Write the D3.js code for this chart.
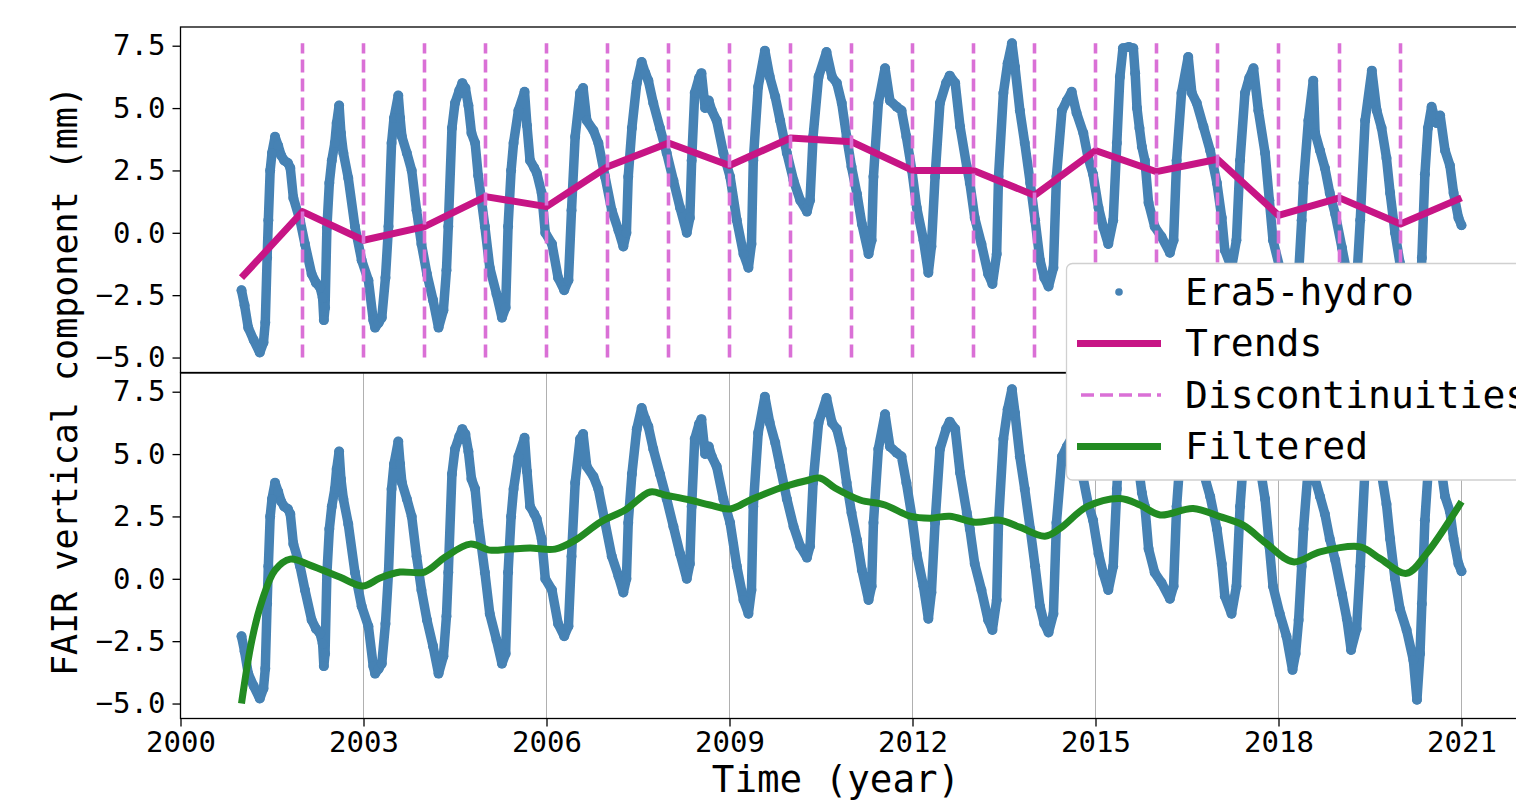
<!DOCTYPE html>
<html>
<head>
<meta charset="utf-8">
<script src="https://cdn.jsdelivr.net/npm/d3@7"></script>
<style>
  html, body { margin: 0; padding: 0; background: #ffffff; overflow: hidden; }
  svg { display: block; font-family: "DejaVu Sans Mono", monospace; }
</style>
</head>
<body>
<svg id="chart" width="1516" height="802"></svg>
<script>
// ---------------- data ----------------
const eraYears = [
  2001.00,2001.05,2001.11,2001.20,2001.30,2001.36,2001.39,2001.42,2001.44,2001.47,2001.50,2001.55,2001.60,2001.65,2001.70,2001.76,2001.80,2001.85,2001.96,
  2002.04,2002.15,2002.22,2002.29,2002.33,2002.35,2002.37,2002.40,2002.44,2002.48,2002.53,2002.56,2002.60,2002.63,2002.67,2002.75,2002.86,2002.97,
  2003.08,2003.16,2003.19,2003.25,2003.30,2003.36,2003.41,2003.46,2003.50,2003.57,2003.60,2003.63,2003.71,2003.79,2003.87,2003.95,
  2004.04,2004.14,2004.23,2004.31,2004.36,2004.39,2004.45,2004.50,2004.57,2004.62,2004.67,2004.72,2004.77,2004.83,2004.88,2004.99,
  2005.07,2005.18,2005.27,2005.33,2005.37,2005.42,2005.46,2005.54,2005.64,2005.68,2005.73,2005.80,2005.84,2005.92,2005.98,
  2006.09,2006.19,2006.29,2006.36,2006.41,2006.47,2006.55,2006.60,2006.66,2006.77,2006.85,2006.96,
  2007.07,2007.18,2007.26,2007.31,2007.34,2007.40,2007.48,2007.56,2007.62,2007.67,2007.75,2007.86,2007.97,
  2008.08,2008.19,2008.30,2008.35,2008.38,2008.43,2008.50,2008.54,2008.60,2008.66,2008.71,2008.79,2008.90,
  2009.01,2009.12,2009.23,2009.31,2009.36,2009.39,2009.47,2009.58,2009.66,2009.75,2009.83,2009.94,
  2010.05,2010.16,2010.27,2010.32,2010.37,2010.46,2010.59,2010.68,2010.76,2010.84,2010.92,
  2011.00,2011.09,2011.17,2011.28,2011.33,2011.36,2011.44,2011.55,2011.63,2011.74,2011.82,2011.90,2011.99,
  2012.07,2012.18,2012.26,2012.31,2012.37,2012.45,2012.55,2012.61,2012.70,2012.78,2012.89,2012.94,
  2013.02,2013.13,2013.24,2013.31,2013.38,2013.41,2013.49,2013.56,2013.63,2013.68,2013.76,2013.84,2013.93,
  2014.01,2014.09,2014.16,2014.23,2014.31,2014.36,2014.45,2014.53,2014.61,2014.69,2014.80,2014.88,2014.96,
  2015.05,2015.13,2015.21,2015.29,2015.35,2015.40,2015.45,2015.55,2015.62,2015.65,2015.68,2015.72,2015.76,2015.81,2015.87,2015.97,
  2016.08,2016.22,2016.28,2016.33,2016.41,2016.52,2016.58,2016.66,2016.77,2016.88,2016.99,
  2017.07,2017.12,2017.23,2017.31,2017.37,2017.45,2017.52,2017.59,2017.67,2017.78,2017.85,2017.91,
  2018.02,2018.13,2018.23,2018.28,2018.33,2018.38,2018.41,2018.49,2018.57,2018.60,2018.68,2018.76,2018.84,2018.93,
  2019.04,2019.12,2019.19,2019.28,2019.34,2019.42,2019.53,2019.61,2019.69,2019.77,2019.83,2019.91,2019.99,
  2020.10,2020.21,2020.27,2020.32,2020.35,2020.40,2020.45,2020.51,2020.59,2020.65,2020.73,2020.81,2020.87,2020.95,2021.00
];
const eraValues = [
  -2.3,-2.9,-3.8,-4.3,-4.8,-4.4,-3.6,-1.0,0.5,2.5,3.2,3.85,3.5,3.1,2.9,2.8,2.6,1.4,0.5,
  -0.45,-1.65,-2.0,-2.2,-2.6,-3.5,-3.0,0.2,2.0,2.9,3.6,4.4,5.1,4.0,3.2,2.2,0.25,-1.1,
  -1.9,-3.5,-3.8,-3.6,-3.4,-1.8,0.25,3.6,4.6,5.5,4.6,3.85,3.2,2.5,0.9,-0.45,
  -1.65,-2.7,-3.8,-3.1,-1.5,0.25,4.2,5.2,5.7,6.0,5.8,5.1,4.0,3.6,2.3,0.25,
  -1.4,-2.45,-3.4,-3.0,0.25,2.5,3.6,4.9,5.65,4.3,2.9,2.6,2.4,1.6,0.0,
  -0.45,-1.8,-2.3,-1.9,0.9,3.85,5.6,5.8,4.5,4.1,3.6,2.25,
  0.9,0.1,-0.55,0.0,2.25,4.2,6.0,6.85,6.4,6.1,5.2,4.2,3.2,
  2.1,1.0,0.0,0.6,2.9,5.6,6.2,6.4,5.0,5.3,4.9,4.5,3.2,
  2.25,0.5,-0.85,-1.4,-0.45,2.9,5.85,7.3,6.25,5.45,4.5,3.2,
  2.1,1.3,0.85,1.3,3.85,6.25,7.25,6.25,6.0,5.2,3.85,
  2.65,1.55,0.35,-0.85,-0.3,2.25,5.2,6.6,5.3,5.05,4.9,3.85,2.5,
  1.0,-0.3,-1.6,-0.55,2.25,5.2,6.0,6.3,6.0,4.25,2.65,2.0,
  0.6,-0.45,-1.65,-2.05,-0.85,2.25,5.6,6.8,7.6,6.65,4.9,3.6,2.0,
  0.5,-1.1,-1.8,-2.15,-1.4,2.25,4.9,5.3,5.65,4.8,4.0,3.0,2.35,
  1.0,0.2,-0.45,0.5,3.6,6.25,7.4,7.45,7.4,6.4,5.0,4.2,3.45,2.9,1.2,0.25,
  -0.15,-0.8,-0.3,2.9,5.6,7.05,5.6,5.2,4.25,3.3,2.0,
  0.6,-0.7,-1.4,-0.3,2.9,5.6,6.2,6.6,4.9,3.2,1.3,-0.3,
  -1.4,-2.3,-3.65,-3.0,-1.65,0.5,2.0,4.5,6.1,4.0,3.3,2.6,1.6,0.75,
  -0.6,-1.6,-2.85,-2.0,0.5,4.5,6.5,4.9,4.2,3.0,1.6,0.0,-1.2,
  -2.05,-3.25,-4.85,-3.0,-1.0,2.35,4.2,5.05,4.4,4.7,3.3,2.7,1.6,0.6,0.3
];

const trendYears  = [2001,2002,2003,2004,2005,2006,2007,2008,2009,2010,2011,2012,2013,2014,2015,2016,2017,2018,2019,2020,2021];
const trendValues = [-1.8,0.85,-0.3,0.25,1.45,1.05,2.65,3.6,2.7,3.8,3.65,2.5,2.5,1.5,3.3,2.45,2.95,0.7,1.4,0.35,1.4];

const discYears = [2002,2003,2004,2005,2006,2007,2008,2009,2010,2011,2012,2013,2014,2015,2016,2017,2018,2019,2020];
const discRange = [-5.0, 7.6];

const filtYears  = [2001.0,2001.17,2001.34,2001.55,2001.80,2002.12,2002.61,2002.99,2003.27,2003.60,2004.0,2004.34,2004.75,2005.07,2005.4,2005.73,2006.14,2006.47,2006.88,2007.29,2007.70,2007.94,2008.35,2008.68,2009.01,2009.34,2009.83,2010.24,2010.48,2010.73,2011.14,2011.55,2011.96,2012.29,2012.61,2013.02,2013.43,2013.76,2014.17,2014.42,2014.86,2015.40,2015.73,2016.06,2016.60,2017.04,2017.42,2017.80,2018.24,2018.68,2019.34,2019.66,2020.10,2020.43,2021.0];
const filtValues = [-5.0,-2.46,-0.85,0.35,0.79,0.55,0.07,-0.29,0.03,0.27,0.27,0.87,1.39,1.15,1.19,1.23,1.19,1.55,2.27,2.76,3.48,3.36,3.16,2.96,2.8,3.16,3.64,3.92,4.04,3.64,3.16,2.96,2.51,2.43,2.51,2.27,2.35,2.07,1.71,2.02,2.89,3.22,2.96,2.56,2.82,2.49,2.15,1.42,0.68,1.08,1.28,0.82,0.22,1.02,3.09];

const xTicks = [2000,2003,2006,2009,2012,2015,2018,2021];
const yTicks = [-5.0,-2.5,0.0,2.5,5.0,7.5];
const xDomain = [2000, 2022];
const yDomain = [-5.6, 8.25];

const legendLabels = ["Era5-hydro","Trends","Discontinuities","Filtered"];
const xLabel = "Time (year)";
const yLabel = "FAIR vertical component (mm)";

// ---------------- layout ----------------
const C = { blue: "#4682b4", trend: "#c71585", disc: "#da70d6", filt: "#228b22", grid: "#b0b0b0", ink: "#000000" };
const L = 180.5, R = 1522.5;
const panels = [
  { top: 27, bottom: 372.5, id: "top" },
  { top: 373, bottom: 718.5, id: "bot" }
];
const tickFont = 29, xLabelFont = 37.5, yLabelFont = 35, legendFont = 38;

const svg = d3.select("#chart");
const x = d3.scaleLinear().domain(xDomain).range([L, R]);
const fmt = d3.format(".1f");
const eraData = eraYears.map((t, i) => [t, eraValues[i]]);
const trendData = trendYears.map((t, i) => [t, trendValues[i]]);
const filtData = filtYears.map((t, i) => [t, filtValues[i]]);

panels.forEach((p, pi) => {
  const y = d3.scaleLinear().domain(yDomain).range([p.bottom, p.top]);
  const defs = svg.append("defs");
  defs.append("clipPath").attr("id", "clip-" + p.id)
    .append("rect").attr("x", L).attr("y", p.top).attr("width", R - L).attr("height", p.bottom - p.top);
  const g = svg.append("g");

  // grid (bottom panel only)
  if (pi === 1) {
    g.append("g").selectAll("line").data(xTicks).join("line")
      .attr("x1", d => x(d)).attr("x2", d => x(d))
      .attr("y1", p.top).attr("y2", p.bottom)
      .attr("stroke", C.grid).attr("stroke-width", 1);
  }

  const plot = g.append("g").attr("clip-path", `url(#clip-${p.id})`);

  // Era5-hydro points (dense daily series drawn as overlapping dots)
  const line = d3.line().x(d => x(d[0])).y(d => y(d[1]));
  plot.append("path").datum(eraData).attr("d", line)
    .attr("fill", "none").attr("stroke", C.blue).attr("stroke-width", 9.5)
    .attr("stroke-linejoin", "round").attr("stroke-linecap", "round");
  plot.append("g").selectAll("circle").data(eraData).join("circle")
    .attr("cx", d => x(d[0])).attr("cy", d => y(d[1])).attr("r", 5)
    .attr("fill", C.blue);

  if (pi === 0) {
    plot.append("path").datum(trendData).attr("d", line)
      .attr("fill", "none").attr("stroke", C.trend).attr("stroke-width", 7)
      .attr("stroke-linejoin", "round");
    plot.append("g").selectAll("line").data(discYears).join("line")
      .attr("x1", d => x(d)).attr("x2", d => x(d))
      .attr("y1", y(discRange[0])).attr("y2", y(discRange[1]))
      .attr("stroke", C.disc).attr("stroke-width", 3.6)
      .attr("stroke-dasharray", "13,6");
  } else {
    const smooth = d3.line().curve(d3.curveCatmullRom.alpha(0.5)).x(d => x(d[0])).y(d => y(d[1]));
    plot.append("path").datum(filtData).attr("d", smooth)
      .attr("fill", "none").attr("stroke", C.filt).attr("stroke-width", 7)
      .attr("stroke-linejoin", "round");
  }

  // y axis
  const ya = g.append("g").attr("transform", `translate(${L},0)`)
    .call(d3.axisLeft(y).tickValues(yTicks).tickFormat(fmt).tickSize(8).tickPadding(7));
  ya.select(".domain").remove();
  ya.selectAll(".tick line").attr("stroke", C.ink).attr("stroke-width", 1.3);
  ya.selectAll(".tick text").attr("font-size", tickFont).attr("fill", C.ink)
    .attr("font-family", "DejaVu Sans Mono");

  // frame
  g.append("rect").attr("x", L).attr("y", p.top).attr("width", R - L).attr("height", p.bottom - p.top)
    .attr("fill", "none").attr("stroke", C.ink).attr("stroke-width", 1.3);
});

// x axis (bottom panel)
const xa = svg.append("g").attr("transform", `translate(0,${panels[1].bottom})`)
  .call(d3.axisBottom(x).tickValues(xTicks).tickFormat(d3.format("d")).tickSize(8).tickPadding(5));
xa.select(".domain").remove();
xa.selectAll(".tick line").attr("stroke", C.ink).attr("stroke-width", 1.3);
xa.selectAll(".tick text").attr("font-size", tickFont).attr("fill", C.ink)
  .attr("font-family", "DejaVu Sans Mono");

// axis labels
svg.append("text").attr("x", 836).attr("y", 792).attr("text-anchor", "middle")
  .attr("font-size", xLabelFont).attr("fill", C.ink).text(xLabel);
svg.append("text").attr("transform", "translate(77,381) rotate(-90)").attr("text-anchor", "middle")
  .attr("font-size", yLabelFont).attr("fill", C.ink).text(yLabel);

// legend
const lg = svg.append("g");
lg.append("rect").attr("x", 1066.5).attr("y", 263.5).attr("width", 520).attr("height", 216.5)
  .attr("rx", 6).attr("fill", "#ffffff")
  .attr("stroke", "#d0d0d0").attr("stroke-width", 1.3);
const rowY = d3.scaleLinear().domain([0, 3]).range([292, 446.5]);
const hx0 = 1077, hx1 = 1161;
lg.append("circle").attr("cx", 1119).attr("cy", rowY(0)).attr("r", 3.8).attr("fill", C.blue);
lg.append("line").attr("x1", hx0).attr("x2", hx1).attr("y1", rowY(1)).attr("y2", rowY(1))
  .attr("stroke", C.trend).attr("stroke-width", 7);
lg.append("line").attr("x1", hx0 + 4).attr("x2", hx1).attr("y1", rowY(2)).attr("y2", rowY(2))
  .attr("stroke", C.disc).attr("stroke-width", 3.6).attr("stroke-dasharray", "13,6");
lg.append("line").attr("x1", hx0).attr("x2", hx1).attr("y1", rowY(3)).attr("y2", rowY(3))
  .attr("stroke", C.filt).attr("stroke-width", 7);
lg.selectAll("text.lab").data(legendLabels).join("text").attr("class", "lab")
  .attr("x", 1185).attr("y", (d, i) => rowY(i) + 12.5)
  .attr("font-size", legendFont).attr("fill", C.ink).text(d => d);
</script>
</body>
</html>
